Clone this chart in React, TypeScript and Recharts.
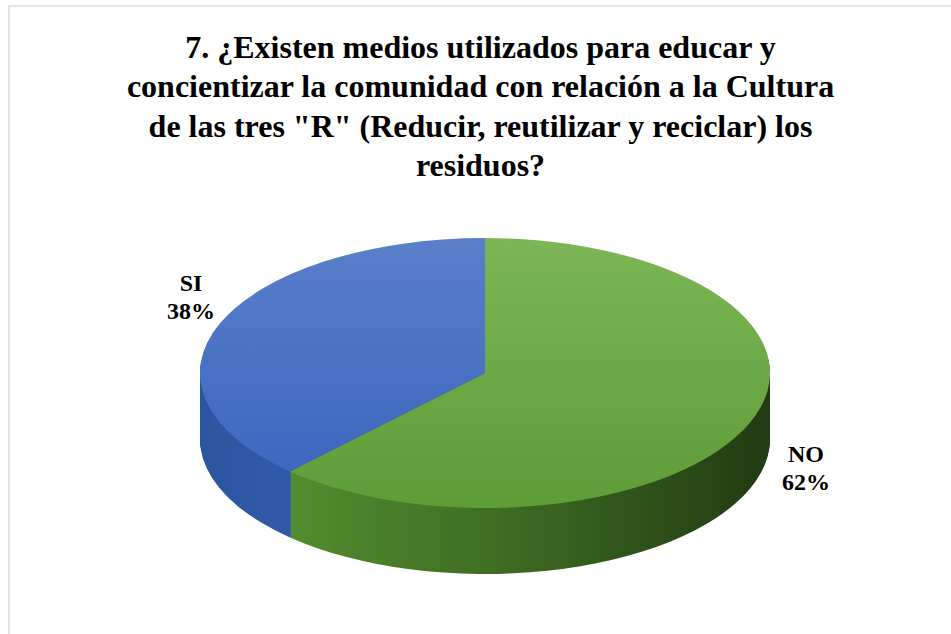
import React from 'react';
import { PieChart, Pie, Cell } from 'recharts';

const titleLines = [
  '7. ¿Existen medios utilizados para educar y',
  'concientizar la comunidad con relación a la Cultura',
  'de las tres "R" (Reducir, reutilizar y reciclar) los',
  'residuos?',
];

const categories = ['NO', 'SI'];
const values = [62, 38];

// page-pixel nudges from the rim of the top face to the label centre
const labelNudge = [
  { dx: 56, dy: 44 },
  { dx: -29, dy: -27 },
];

const W = 951;
const R = 285; // horizontal radius
const SQUASH = 135 / 285; // vertical / horizontal radius
const DEPTH = 66 / SQUASH; // side height, unscaled
const CX = 485;
const TOP = 220; // page y of the chart svg
const CY = (373 - TOP) / SQUASH;
const H = Math.ceil(CY + R + DEPTH + 40);
const LAYERS = 60;

const pieData = categories.map((name, i) => ({ name, value: values[i] }));
const layers = Array.from({ length: LAYERS }, (_, i) => LAYERS - i);

const topFill = ['url(#topNo)', 'url(#topSi)'];
const sideFill = ['url(#sideNo)', 'url(#sideSi)'];

const RADIAN = Math.PI / 180;

const renderLabel = (props: any) => {
  const { cx, cy, midAngle, outerRadius, index, name, value } = props;
  const x = cx + outerRadius * Math.cos(-midAngle * RADIAN);
  const y = cy + outerRadius * Math.sin(-midAngle * RADIAN);
  const n = labelNudge[index] || { dx: 0, dy: 0 };
  return (
    <g transform={`translate(${x + n.dx}, ${y + n.dy / SQUASH}) scale(1, ${1 / SQUASH})`}>
      <text
        textAnchor="middle"
        fontFamily="'Liberation Serif', 'Times New Roman', serif"
        fontWeight="bold"
        fontSize={24}
        fill="#000"
      >
        <tspan x={0} y={-5}>{name}</tspan>
        <tspan x={0} y={23}>{`${value}%`}</tspan>
      </text>
    </g>
  );
};

export default function App() {
  return (
    <div
      style={{
        position: 'fixed',
        left: 0,
        top: 0,
        width: W,
        height: 634,
        overflow: 'hidden',
        background: '#fff',
      }}
    >
      <div
        style={{
          position: 'absolute',
          left: 8,
          top: 5,
          width: 1000,
          height: 700,
          border: '2px solid #e1e4e8',
          boxSizing: 'border-box',
        }}
      />
      <div
        style={{
          position: 'absolute',
          left: 0,
          top: 28,
          width: 961,
          textAlign: 'center',
          fontFamily: "'Liberation Serif', 'Times New Roman', serif",
          fontWeight: 'bold',
          fontSize: 32,
          lineHeight: '39.3px',
          color: '#000',
        }}
      >
        {titleLines.map((line) => (
          <div key={line}>{line}</div>
        ))}
      </div>
      <div
        style={{
          position: 'absolute',
          left: 0,
          top: TOP,
          transform: `scaleY(${SQUASH})`,
          transformOrigin: 'top left',
        }}
      >
        <PieChart width={W} height={H} margin={{ top: 0, right: 0, bottom: 0, left: 0 }}>
          <defs>
            <linearGradient id="topNo" gradientUnits="userSpaceOnUse" x1="0" y1={CY - R} x2="0" y2={CY + R}>
              <stop offset="0%" stopColor="#7cb656" />
              <stop offset="100%" stopColor="#5e9c36" />
            </linearGradient>
            <linearGradient id="topSi" gradientUnits="userSpaceOnUse" x1="0" y1={CY - R} x2="0" y2={CY + R}>
              <stop offset="0%" stopColor="#5a7fca" />
              <stop offset="100%" stopColor="#3864bd" />
            </linearGradient>
            <linearGradient id="sideNo" gradientUnits="userSpaceOnUse" x1={CX - R} y1="0" x2={CX + R} y2="0">
              <stop offset="0%" stopColor="#5c9a36" />
              <stop offset="15%" stopColor="#538d2f" />
              <stop offset="55%" stopColor="#3c6a22" />
              <stop offset="100%" stopColor="#213a12" />
            </linearGradient>
            <linearGradient id="sideSi" gradientUnits="userSpaceOnUse" x1={CX - R} y1="0" x2={CX + R} y2="0">
              <stop offset="0%" stopColor="#2d559e" />
              <stop offset="12%" stopColor="#3059a8" />
              <stop offset="100%" stopColor="#2a4f93" />
            </linearGradient>
          </defs>
          {layers.map((l) => (
            <Pie
              key={`side-${l}`}
              data={pieData}
              dataKey="value"
              nameKey="name"
              cx={CX}
              cy={CY + (DEPTH * l) / LAYERS}
              outerRadius={R}
              startAngle={90}
              endAngle={-270}
              stroke="none"
              isAnimationActive={false}
            >
              {pieData.map((d, i) => (
                <Cell key={d.name} fill={sideFill[i]} />
              ))}
            </Pie>
          ))}
          <Pie
            data={pieData}
            dataKey="value"
            nameKey="name"
            cx={CX}
            cy={CY}
            outerRadius={R}
            startAngle={90}
            endAngle={-270}
            stroke="none"
            label={renderLabel}
            labelLine={false}
            isAnimationActive={false}
          >
            {pieData.map((d, i) => (
              <Cell key={d.name} fill={topFill[i]} />
            ))}
          </Pie>
        </PieChart>
      </div>
    </div>
  );
}
